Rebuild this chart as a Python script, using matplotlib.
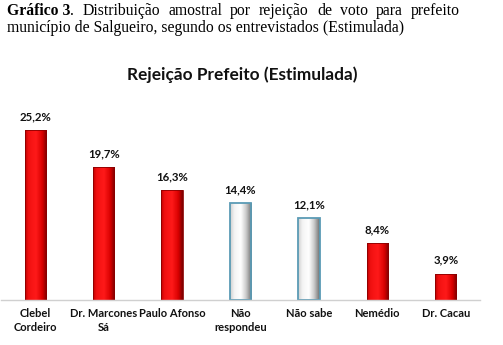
import numpy as np
import matplotlib
matplotlib.use("Agg")
import matplotlib.pyplot as plt
from matplotlib.colors import LinearSegmentedColormap

categories = ["Clebel\nCordeiro", "Dr. Marcones\nSá", "Paulo Afonso", "Não\nrespondeu",
              "Não sabe", "Nemédio", "Dr. Cacau"]
values = [25.2, 19.7, 16.3, 14.4, 12.1, 8.4, 3.9]
value_labels = ["25,2%", "19,7%", "16,3%", "14,4%", "12,1%", "8,4%", "3,9%"]
kinds = ["red", "red", "red", "gray", "gray", "red", "red"]

title = "Rejeição Prefeito (Estimulada)"

W, H = 503, 345
fig = plt.figure(figsize=(W / 100, H / 100), dpi=100)
fig.patch.set_facecolor("white")

# caption: first line justified between x=7 and x=460 px
serif = "Liberation Serif"
cap_fs = 11.3
words = [("Gráfico 3", "bold"), ("Distribuição", "normal"), ("amostral", "normal"),
         ("por", "normal"), ("rejeição", "normal"), ("de", "normal"), ("voto", "normal"),
         ("para", "normal"), ("prefeito", "normal")]
renderer = fig.canvas.get_renderer()
texts = []
widths = []
for i, (w, wt) in enumerate(words):
    t = fig.text(0, 1 - 11 / H, w, ha="left", va="center", fontsize=cap_fs,
                 family=serif, weight=wt)
    texts.append(t)
dot = fig.text(0, 1 - 11 / H, ".", ha="left", va="center", fontsize=cap_fs, family=serif)
for t in texts:
    widths.append(t.get_window_extent(renderer).width)
dot_w = dot.get_window_extent(renderer).width
left, right = 7.0, 460.0
total = sum(widths) + dot_w
gap = (right - left - total) / (len(words) - 1)
xpos = left
for i, t in enumerate(texts):
    t.set_x(xpos / W)
    xpos += widths[i]
    if i == 0:
        dot.set_x(xpos / W)
        xpos += dot_w
    xpos += gap
fig.text(7 / W, 1 - 28 / H,
         "município de Salgueiro, segundo os entrevistados (Estimulada)",
         ha="left", va="center", fontsize=cap_fs, family=serif)

fig.text(242 / W, 1 - 75 / H, title, ha="center", va="center", fontsize=12.4,
         family="Lato", weight="bold", color="#111111")

# axes
ymax = 30.0
px_per = 6.74
ax_bottom = 45
ax_h = ymax * px_per
ax = fig.add_axes([1 / W, ax_bottom / H, 479 / W, ax_h / H])
ax.set_xlim(-0.5, len(categories) - 0.5)
ax.set_ylim(0, ymax)
for s in ["top", "right", "left"]:
    ax.spines[s].set_visible(False)
ax.spines["bottom"].set_color("#d0d0d0")
ax.spines["bottom"].set_linewidth(1.0)
ax.set_yticks([])
x = np.arange(len(categories))
ax.set_xticks(x)
ax.set_xticklabels(categories, fontsize=8.0, family="Lato", weight="bold",
                   linespacing=1.35, color="#111111")
ax.tick_params(axis="x", length=0, pad=6)

red_cmap = LinearSegmentedColormap.from_list(
    "r", [(0, "#c00000"), (0.15, "#f01010"), (0.5, "#ff1a1a"), (0.8, "#d80000"), (1, "#7a0000")])
gray_cmap = LinearSegmentedColormap.from_list(
    "g", [(0, "#cfcfcf"), (0.2, "#f4f4f4"), (0.5, "#ffffff"), (0.75, "#c8c8c8"), (1, "#6e6e6e")])

bars = ax.bar(x, values, width=0.31, color="none", zorder=2)
grad = np.linspace(0, 1, 64).reshape(1, -1)
for b, k, v, lab in zip(bars, kinds, values, value_labels):
    x0, w, h = b.get_x(), b.get_width(), b.get_height()
    cmap = red_cmap if k == "red" else gray_cmap
    im = ax.imshow(grad, cmap=cmap, extent=[x0, x0 + w, 0, h], aspect="auto",
                   zorder=1, interpolation="bicubic")
    im.set_clip_path(b)
    if k == "red":
        b.set_edgecolor("#8a0000")
        b.set_linewidth(0.6)
    else:
        b.set_edgecolor("#5b9bb5")
        b.set_linewidth(1.3)
    ax.text(x0 + w / 2, h + 1.2, lab, ha="center", va="bottom", fontsize=8.2,
            family="Lato", weight="bold", color="#111111")

ax.set_xlim(-0.5, len(categories) - 0.5)
ax.set_ylim(0, ymax)

fig.savefig("out.png", dpi=100, facecolor="white")
